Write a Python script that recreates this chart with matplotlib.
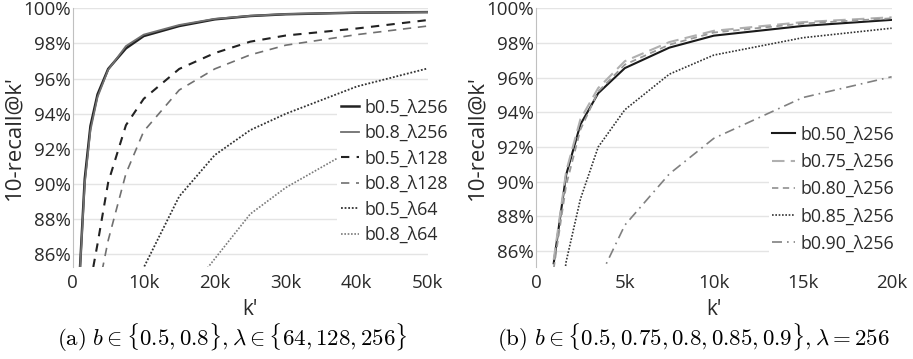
import matplotlib
matplotlib.use("Agg")
import matplotlib.pyplot as plt
from matplotlib.ticker import FuncFormatter

plt.rcParams['font.family'] = ['Open Sans', 'DejaVu Sans']
plt.rcParams['mathtext.fontset'] = 'cm'

# (a) b in {0.5, 0.8}, lambda in {64, 128, 256}
k_a = [1000, 1700, 2500, 3500, 5000, 7500, 10000, 15000, 20000, 25000, 30000, 40000, 50000]
b05_l256 = [85.0, 90.3, 93.3, 95.1, 96.55, 97.72, 98.42, 98.99, 99.37, 99.56, 99.66, 99.75, 99.78]
b08_l256 = [84.9, 90.0, 93.05, 94.95, 96.5, 97.85, 98.5, 99.05, 99.4, 99.57, 99.67, 99.75, 99.78]
b05_l128 = [79.0, 81.5, 84.4, 86.6, 90.1, 93.35, 94.85, 96.55, 97.45, 98.1, 98.45, 98.85, 99.33]
b08_l128 = [70.0, 75.0, 79.5, 83.8, 86.8, 90.6, 93.0, 95.35, 96.55, 97.35, 97.9, 98.5, 98.99]
b05_l64 = [60.0, 65.0, 70.0, 74.0, 78.0, 82.0, 85.25, 89.3, 91.65, 93.07, 94.0, 95.55, 96.58]
b08_l64 = [50.0, 55.0, 60.0, 65.0, 70.0, 75.0, 78.5, 83.2, 85.75, 88.3, 89.8, 92.1, 93.8]

# (b) b in {0.5, 0.75, 0.8, 0.85, 0.9}, lambda = 256
k_b = [1000, 1700, 2500, 3500, 5000, 7500, 10000, 15000, 20000]
b050 = [85.3, 90.4, 93.3, 95.1, 96.55, 97.73, 98.42, 98.98, 99.33]
b075 = [85.5, 90.6, 93.6, 95.4, 96.95, 98.05, 98.7, 99.2, 99.48]
b080 = [85.0, 89.8, 93.0, 95.2, 96.75, 97.9, 98.6, 99.12, 99.42]
b085 = [80.0, 85.4, 89.0, 92.0, 94.15, 96.2, 97.3, 98.3, 98.85]
b090 = [75.0, 78.0, 81.0, 84.3, 87.5, 90.45, 92.5, 94.85, 96.05]

labels_a = ['b0.5_λ256', 'b0.8_λ256', 'b0.5_λ128', 'b0.8_λ128', 'b0.5_λ64', 'b0.8_λ64']
labels_b = ['b0.50_λ256', 'b0.75_λ256', 'b0.80_λ256', 'b0.85_λ256', 'b0.90_λ256']

fig = plt.figure(figsize=(9.13, 3.59), dpi=100)
ax1 = fig.add_axes([0.0796, 0.257, 0.389, 0.72])
ax2 = fig.add_axes([0.587, 0.257, 0.3896, 0.72])

def kfmt(v, pos):
    return '0' if v == 0 else '%dk' % (v / 1000)

def style(ax, xmax, xstep, ymin):
    ax.set_xlim(0, xmax)
    ax.set_ylim(ymin, 100)
    ax.set_xticks(range(0, xmax + 1, xstep))
    ax.set_yticks(range(86, 101, 2))
    ax.xaxis.set_major_formatter(FuncFormatter(kfmt))
    ax.yaxis.set_major_formatter(FuncFormatter(lambda v, p: '%d%%' % v))
    ax.grid(axis='y', color='#e4e4e4', lw=1.0)
    ax.set_axisbelow(True)
    for s in ['top', 'right', 'bottom']:
        ax.spines[s].set_visible(False)
    ax.spines['left'].set_color('#c0c0c0')
    ax.tick_params(length=0, labelsize=13.5, colors='#2a2a2a')
    ax.tick_params(axis='x', pad=5)
    ax.tick_params(axis='y', pad=1.5)
    ax.set_xlabel("k'", fontsize=15, color='#2a2a2a')
    ax.set_ylabel("10-recall@k'", fontsize=16, color='#2a2a2a')
    ax.yaxis.set_label_coords(-0.135, 0.5)
    ax.xaxis.set_label_coords(0.5, -0.125)

ax1.plot(k_a, b05_l256, color='#222222', lw=1.8, label=labels_a[0])
ax1.plot(k_a, b08_l256, color='#707070', lw=1.3, label=labels_a[1])
ax1.plot(k_a, b05_l128, color='#222222', lw=1.5, dashes=(4, 3.5), label=labels_a[2])
ax1.plot(k_a, b08_l128, color='#707070', lw=1.2, dashes=(5, 4), label=labels_a[3])
ax1.plot(k_a, b05_l64, color='#333333', lw=1.3, dashes=(1, 1), label=labels_a[4])
ax1.plot(k_a, b08_l64, color='#7a7a7a', lw=1.2, dashes=(1, 1), label=labels_a[5])
style(ax1, 50000, 10000, 85.3)

ax2.plot(k_b, b050, color='#1a1a1a', lw=1.5, label=labels_b[0])
ax2.plot(k_b, b075, color='#b0b0b0', lw=1.5, dashes=(6, 3), label=labels_b[1])
ax2.plot(k_b, b080, color='#999999', lw=1.3, dashes=(3.5, 2.5), label=labels_b[2])
ax2.plot(k_b, b085, color='#333333', lw=1.2, dashes=(1, 1), label=labels_b[3])
ax2.plot(k_b, b090, color='#808080', lw=1.2, dashes=(6, 3, 1, 3), label=labels_b[4])
style(ax2, 20000, 5000, 85.1)

for ax, anchor, hl, ls in [(ax1, (0.745, 0.37), 1.05, 0.42), (ax2, (0.655, 0.30), 1.25, 0.52)]:
    leg = ax.legend(loc='center left', bbox_to_anchor=anchor, fontsize=12.8,
                    handlelength=hl, handletextpad=0.3, labelspacing=ls,
                    borderpad=0.2, borderaxespad=0, frameon=True, fancybox=False)
    leg.get_frame().set_facecolor('white')
    leg.get_frame().set_edgecolor('none')
    leg.get_frame().set_alpha(1)
    for t in leg.get_texts():
        t.set_color('#2a2a2a')

fig.text(0.254, 0.058, r'$\mathrm{(a)}\ b \in \{0.5, 0.8\}, \lambda \in \{64, 128, 256\}$',
         ha='center', va='center', fontsize=16.5)
fig.text(0.760, 0.058, r'$\mathrm{(b)}\ b \in \{0.5, 0.75, 0.8, 0.85, 0.9\}, \lambda = 256$',
         ha='center', va='center', fontsize=16.5)

fig.savefig('out.png', dpi=100)
